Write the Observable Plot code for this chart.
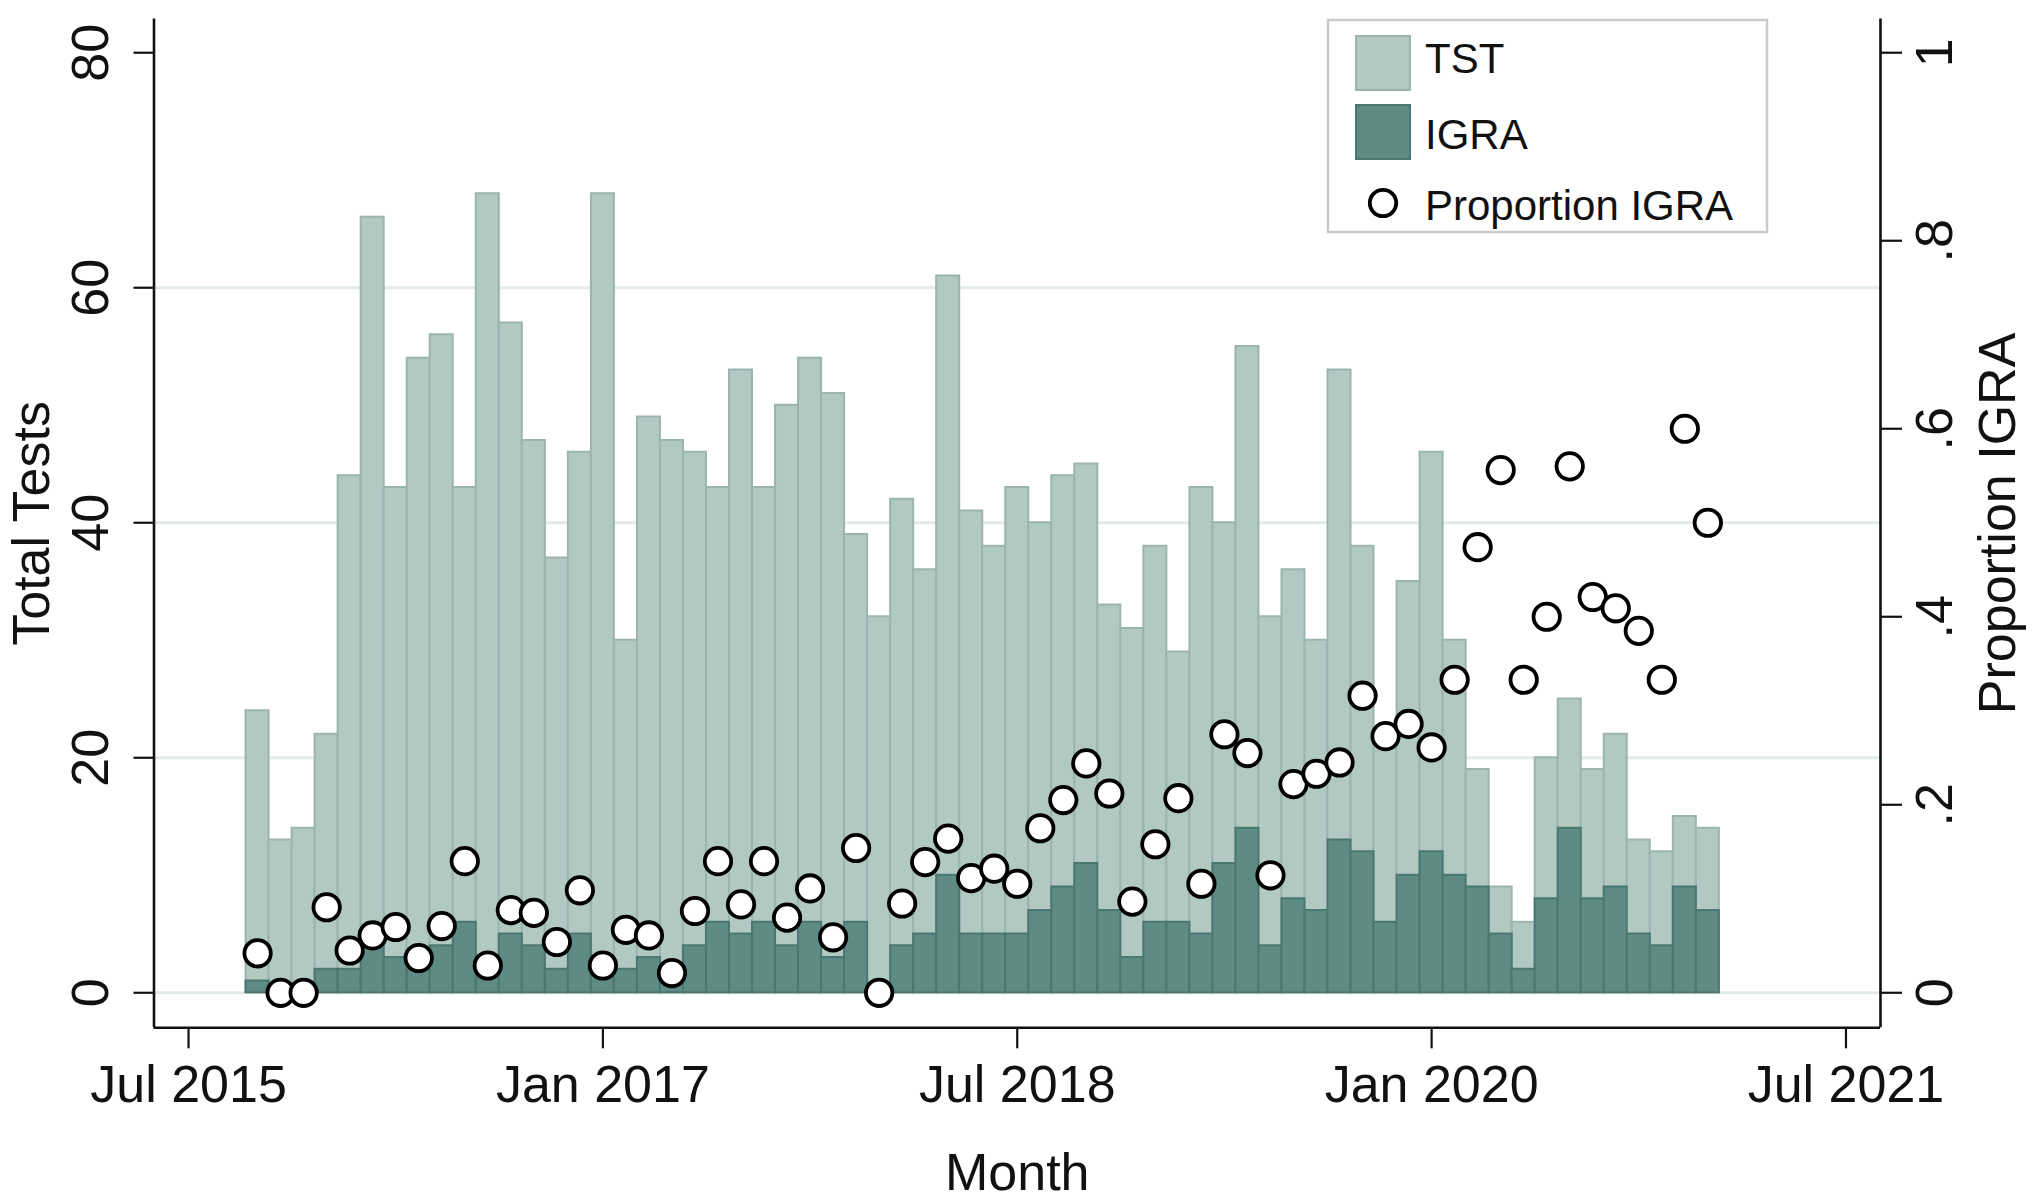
<!DOCTYPE html>
<html><head><meta charset="utf-8">
<script src="https://cdn.jsdelivr.net/npm/d3@7"></script>
<script src="https://cdn.jsdelivr.net/npm/@observablehq/plot@0.6"></script>
<style>
html,body{margin:0;padding:0;background:#fff;}
#wrap{position:relative;width:2040px;height:1201px;overflow:hidden;}
#wrap svg{display:block;}
#legend{position:absolute;left:0;top:0;}
</style></head>
<body><div id="wrap"></div>
<script>
// ---- data ----
const months = [
  "2015-10","2015-11","2015-12",
  "2016-01","2016-02","2016-03","2016-04","2016-05","2016-06","2016-07","2016-08","2016-09","2016-10","2016-11","2016-12",
  "2017-01","2017-02","2017-03","2017-04","2017-05","2017-06","2017-07","2017-08","2017-09","2017-10","2017-11","2017-12",
  "2018-01","2018-02","2018-03","2018-04","2018-05","2018-06","2018-07","2018-08","2018-09","2018-10","2018-11","2018-12",
  "2019-01","2019-02","2019-03","2019-04","2019-05","2019-06","2019-07","2019-08","2019-09","2019-10","2019-11","2019-12",
  "2020-01","2020-02","2020-03","2020-04","2020-05","2020-06","2020-07","2020-08","2020-09","2020-10","2020-11","2020-12",
  "2021-01"
];
const tst = [24,13,14,
  22,44,66,43,54,56,43,68,57,47,37,46,
  68,30,49,47,46,43,53,43,50,54,51,39,
  32,42,36,61,41,38,43,40,44,45,33,31,
  38,29,43,40,55,32,36,30,53,38,22,35,
  46,30,19,9,6,20,25,19,22,13,12,15,
  14];
const igra = [1,0,0,
  2,2,4,3,2,4,6,2,5,4,2,5,
  2,2,3,1,4,6,5,6,4,6,3,6,
  0,4,5,10,5,5,5,7,9,11,7,3,
  6,6,5,11,14,4,8,7,13,12,6,10,
  12,10,9,5,2,8,14,8,9,5,4,9,
  7];
const propIgra = [.042,0,0,
  .091,.045,.061,.070,.037,.071,.140,.029,.088,.085,.054,.109,
  .029,.067,.061,.021,.087,.140,.094,.140,.080,.111,.059,.154,
  0,.095,.139,.164,.122,.132,.116,.175,.205,.244,.212,.097,
  .158,.207,.116,.275,.255,.125,.222,.233,.245,.316,.273,.286,
  .261,.333,.474,.556,.333,.400,.560,.421,.409,.385,.333,.600,
  .500];
const leftTicks = [0,20,40,60,80];
const gridValues = [0,20,40,60];
const rightTicks = [0,.2,.4,.6,.8,1];
const rightTickLabels = ["0",".2",".4",".6",".8","1"];
const xTickLabels = ["Jul 2015","Jan 2017","Jul 2018","Jan 2020","Jul 2021"];
const legendLabels = ["TST","IGRA","Proportion IGRA"];

// ---- styling ----
const TST_FILL = "#b2c8c3", TST_STROKE = "#9bb5ae";
const IGRA_FILL = "#5e8b84", IGRA_STROKE = "#4a7870";
const FONT = "'Liberation Sans', Arial, Helvetica, sans-serif";
const PROP_MAX = 80; // right axis 1.0 aligns with left axis 80

const baseYear = 2015, baseMonth = 7; // Jul 2015 = index 0
const monthIndex = s => { const [y, m] = s.split("-").map(Number); return (y - baseYear) * 12 + (m - baseMonth); };
const parseLabel = d3.utcParse("%b %Y");
const labelIndex = lab => { const d = parseLabel(lab); return (d.getUTCFullYear() - baseYear) * 12 + (d.getUTCMonth() + 1 - baseMonth); };
const xTickValues = xTickLabels.map(labelIndex);

const data = months.map((m, k) => ({i: monthIndex(m), tst: tst[k], igra: igra[k], prop: propIgra[k]}));

const X0 = -1.5, X1 = 73.5, Y0 = -2.98, Y1 = 82.87;

const chart = Plot.plot({
  width: 2040, height: 1201,
  marginLeft: 153.5, marginRight: 160, marginTop: 18.5, marginBottom: 173.7,
  x: {domain: [X0, X1], label: null},
  y: {domain: [Y0, Y1], label: null},
  style: {fontFamily: FONT, fontSize: "52px", color: "#111", background: "#fff", overflow: "visible"},
  marks: [
    Plot.gridY(gridValues, {stroke: "#e3ebe9", strokeOpacity: 1, strokeWidth: 3}),
    Plot.rectY(data, {x1: d => d.i - 0.5, x2: d => d.i + 0.5, y: "tst", fill: TST_FILL, stroke: TST_STROKE, strokeWidth: 2}),
    Plot.rectY(data, {x1: d => d.i - 0.5, x2: d => d.i + 0.5, y: "igra", fill: IGRA_FILL, stroke: IGRA_STROKE, strokeWidth: 2}),
    Plot.dot(data, {x: "i", y: d => d.prop * PROP_MAX, r: 13.2, fill: "white", stroke: "black", strokeWidth: 3.8}),
    Plot.ruleX([X0], {stroke: "#111", strokeWidth: 2.6}),
    Plot.ruleX([X1], {stroke: "#111", strokeWidth: 2.6}),
    Plot.ruleY([Y0], {stroke: "#111", strokeWidth: 2.6}),
    Plot.axisY({ticks: leftTicks, tickSize: 20, tickFormat: () => "", label: null, stroke: "#111", strokeWidth: 2.2}),
    Plot.text(leftTicks, {y: d => d, text: d => String(d), frameAnchor: "left", dx: -63, rotate: -90, textAnchor: "middle", lineAnchor: "middle", fontSize: 52, fill: "#111"}),
    Plot.axisY({anchor: "right", ticks: rightTicks.map(v => v * PROP_MAX), tickSize: 21, tickFormat: () => "", label: null, stroke: "#111", strokeWidth: 2.2}),
    Plot.text(rightTicks, {y: d => d * PROP_MAX, text: (d, i) => rightTickLabels[i], frameAnchor: "right", dx: 55, rotate: -90, textAnchor: "middle", lineAnchor: "middle", fontSize: 52, fill: "#111"}),
    Plot.axisX({ticks: xTickValues, tickSize: 21, tickPadding: 16, tickFormat: v => xTickLabels[xTickValues.indexOf(v)], label: null, stroke: "#111", strokeWidth: 2.2, fontSize: 52, fill: "#111"}),
    Plot.text(["Total Tests"], {text: d => d, frameAnchor: "left", dx: -122, rotate: -90, textAnchor: "middle", lineAnchor: "middle", fontSize: 52, fill: "#111"}),
    Plot.text(["Proportion IGRA"], {text: d => d, frameAnchor: "right", dx: 118, rotate: -90, textAnchor: "middle", lineAnchor: "middle", fontSize: 52, fill: "#111"}),
    Plot.text(["Month"], {text: d => d, frameAnchor: "bottom", dy: 125, textAnchor: "middle", lineAnchor: "top", fontSize: 52, fill: "#111"})
  ]
});
const wrap = document.getElementById("wrap");
wrap.appendChild(chart);

// ---- legend (inside plot region, top right) ----
const lg = d3.select(wrap).append("svg").attr("id", "legend")
  .attr("width", 2040).attr("height", 1201).style("pointer-events", "none");
lg.append("rect").attr("x", 1328).attr("y", 20).attr("width", 439).attr("height", 212)
  .attr("fill", "#fff").attr("stroke", "#c9c9c9").attr("stroke-width", 2.5);
const fills = [TST_FILL, IGRA_FILL], strokes = [TST_STROKE, IGRA_STROKE];
[36, 105].forEach((yy, k) => {
  lg.append("rect").attr("x", 1356).attr("y", yy).attr("width", 54).attr("height", 54)
    .attr("fill", fills[k]).attr("stroke", strokes[k]).attr("stroke-width", 2);
});
lg.append("circle").attr("cx", 1383).attr("cy", 203).attr("r", 13.2)
  .attr("fill", "#fff").attr("stroke", "#000").attr("stroke-width", 3.8);
[73, 149, 220].forEach((yy, k) => {
  lg.append("text").attr("x", 1425).attr("y", yy).text(legendLabels[k])
    .attr("font-family", FONT).attr("font-size", 42).attr("fill", "#111");
});
</script>
</body></html>
